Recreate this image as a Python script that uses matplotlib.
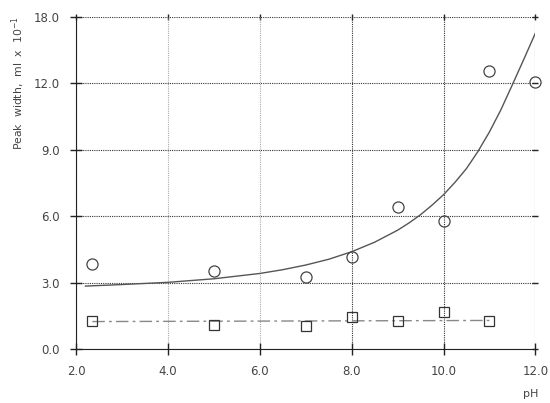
import matplotlib
matplotlib.use("Agg")
import matplotlib.pyplot as plt

# measured points (circles)
ph_circ = [2.35, 5.0, 7.0, 8.0, 9.0, 10.0, 11.0, 12.0]
width_circ = [3.83, 3.54, 3.27, 4.14, 6.42, 5.79, 12.54, 12.04]

# measured points (squares)
ph_sq = [2.35, 5.0, 7.0, 8.0, 9.0, 10.0, 11.0]
width_sq = [1.29, 1.09, 1.05, 1.47, 1.29, 1.67, 1.29]

# fitted curve
ph_fit = [2.2, 3.0, 4.0, 5.0, 6.0, 6.5, 7.0, 7.5, 8.0, 8.5, 9.0, 9.25, 9.5, 9.75,
          10.0, 10.25, 10.5, 10.75, 11.0, 11.25, 11.5, 11.75, 12.0]
width_fit = [2.85, 2.92, 3.02, 3.18, 3.42, 3.59, 3.80, 4.06, 4.40, 4.83, 5.37, 5.70, 6.07, 6.50,
             6.97, 7.53, 8.15, 8.92, 9.80, 10.80, 11.93, 13.08, 14.25]

# flat line through the squares
ph_flat = [2.35, 11.0]
width_flat = [1.25, 1.30]

x_ticks = [2, 4, 6, 8, 10, 12]
x_labels = ["2.0", "4.0", "6.0", "8.0", "10.0", "12.0"]
y_ticks = [0, 3, 6, 9, 12, 15]
y_labels = ["0.0", "3.0", "6.0", "9.0", "12.0", "18.0"]

txt = "#444444"

fig = plt.figure(figsize=(5.5, 4.03), dpi=100)
ax = fig.add_axes([0.1387, 0.1333, 0.8346, 0.8253])

ax.plot(ph_fit, width_fit, color="#555555", lw=1.0, zorder=3)
ax.plot(ph_flat, width_flat, color="#888888", lw=1.0, ls=(0, (9, 3, 2, 3)), zorder=3)
ax.plot(ph_circ, width_circ, ls="none", marker="o", ms=8, mfc="none", mec="#444444",
        mew=0.9, zorder=4, clip_on=False)
ax.plot(ph_sq, width_sq, ls="none", marker="s", ms=7.5, mfc="none", mec="#333333",
        mew=0.9, zorder=4, clip_on=False)

ax.set_xlim(2, 12)
ax.set_ylim(0, 15)
ax.set_xticks(x_ticks)
ax.set_xticklabels(x_labels)
ax.set_yticks(y_ticks)
ax.set_yticklabels(y_labels)

ax.spines["top"].set_visible(False)
ax.spines["right"].set_visible(False)
ax.spines["left"].set_color("#222222")
ax.spines["bottom"].set_color("#222222")
ax.tick_params(direction="inout", length=8, width=1.0, color="#222222",
               labelsize=8.5, labelcolor=txt)
ax.tick_params(axis="x", pad=7)
ax.tick_params(axis="y", pad=8)

# small crosses along top and right edges
top = ax.secondary_xaxis("top")
top.set_xticks(x_ticks)
top.tick_params(direction="inout", length=5, width=1.0, color="#222222", labeltop=False)
top.spines["top"].set_visible(False)
right = ax.secondary_yaxis("right")
right.set_yticks(y_ticks)
right.tick_params(direction="inout", length=5, width=1.0, color="#222222", labelright=False)
right.spines["right"].set_visible(False)

ax.grid(True, color="#333333", ls=(0, (1, 1)), lw=0.8)
xg = ax.get_xgridlines()
for g in xg[1:3]:
    g.set_color("#aaaaaa")

fig.text(18 / 550, 1 - 83 / 403, r"Peak  width,  ml  x  10$^{-1}$", rotation=90,
         ha="center", va="center", fontsize=7.8, color=txt)
fig.text(531 / 550, 1 - 394 / 403, "pH", ha="center", va="center", fontsize=8, color=txt)

fig.savefig("out.png", dpi=100)
